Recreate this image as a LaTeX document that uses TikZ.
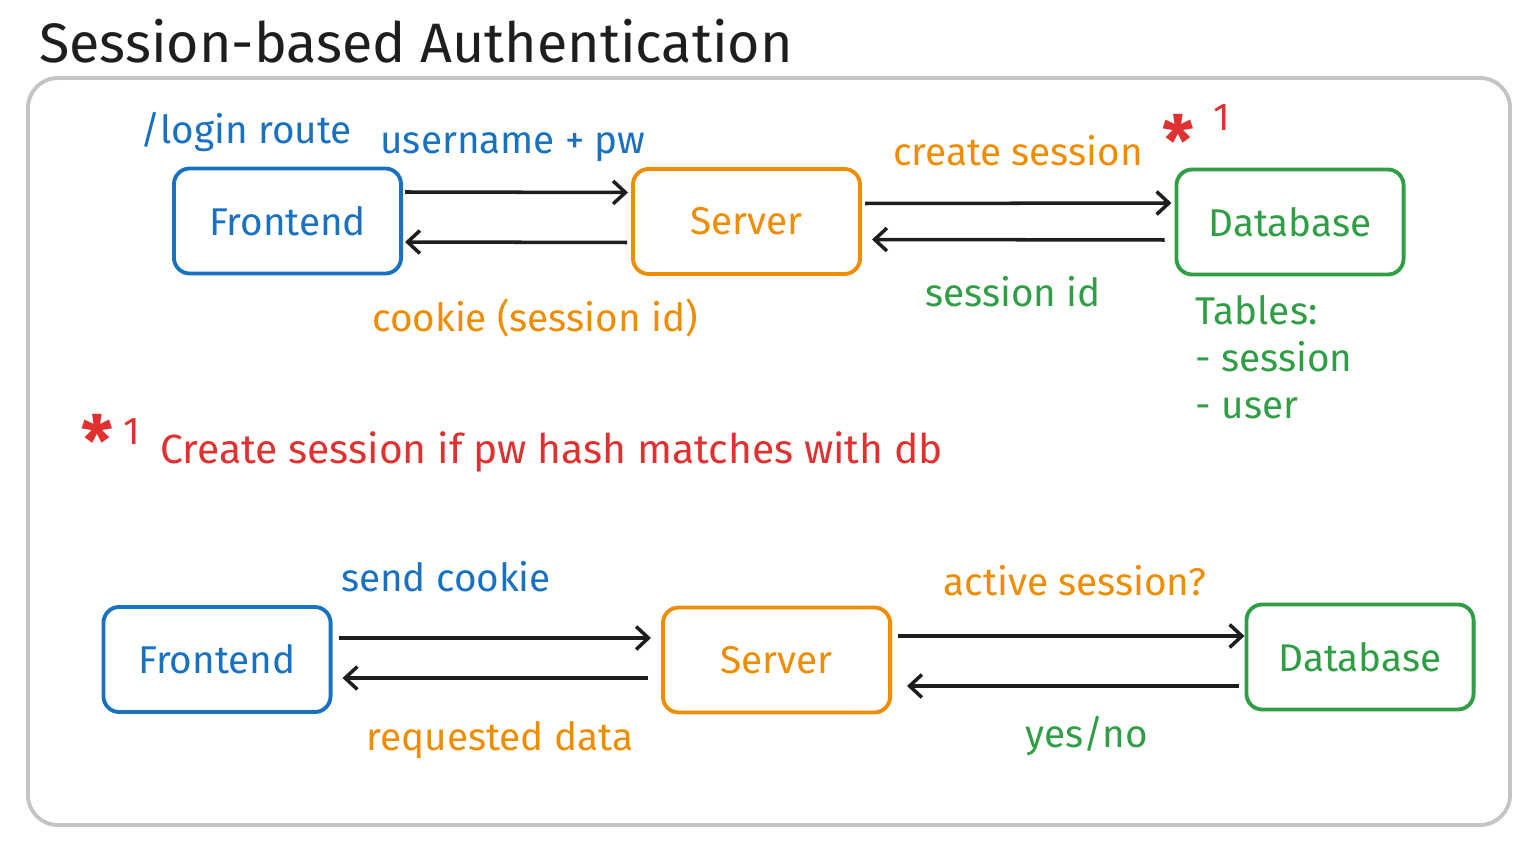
\documentclass[tikz,border=0pt]{standalone}
\usepackage{fontspec}
\setmainfont{Fira Sans}
\usetikzlibrary{arrows.meta,calc}

\definecolor{xblue}{HTML}{1971C2}
\definecolor{xorange}{HTML}{F08C00}
\definecolor{xgreen}{HTML}{2F9E44}
\definecolor{xred}{HTML}{E03131}
\definecolor{xink}{HTML}{1E1E1E}
\definecolor{xframe}{HTML}{C4C4C4}

\tikzset{
  service/.style = {rectangle,
      line width = 1.1pt,
      rounded corners = 4.5pt,
      minimum width = 2.27cm,
      minimum height = 1.05cm,
      font = \fontsize{11}{13}\selectfont},
  note/.style = {inner sep = 0pt,
      font = \fontsize{11}{13}\selectfont},
  flow/.style = {draw = xink,
      line width = 1pt,
      -{Straight Barb[length=3.5pt,width=6.5pt]}},
}

\begin{document}
\begin{tikzpicture}[x=0.01cm,y=-0.01cm]
\useasboundingbox (0,0) rectangle (1524,843);

\node[note, text = xink, font = \fontsize{15.8}{18}\selectfont] (title) at (416,41) {Session-based Authentication};
\draw[xframe, line width = 1.1pt, rounded corners = 8.5pt] (28,78) rectangle (1510,825);

% login
  \node[service, draw = xblue, text = xblue] (fe1) at (287.5,221) {Frontend};
  \node[service, draw = xorange, text = xorange] (sv1) at (746.5,221.5) {Server};
  \node[service, draw = xgreen, text = xgreen] (db1) at (1290,222) {Database};

  \draw[flow] ($(fe1.east)+(2,-29)$) -- ($(sv1.west)+(-3,-29)$);
  \draw[flow] ($(sv1.west)+(-4,21)$) -- ($(fe1.east)+(2,21)$);
  \draw[flow] ($(sv1.east)+(3,-18)$) -- ($(db1.west)+(-3,-19)$);
  \draw[flow] ($(db1.west)+(-10,18)$) -- ($(sv1.east)+(10,18)$);

  \node[note, text = xblue] (route) at (246,132) {/login route};
  \node[note, text = xblue] (creds) at (513,147) {username + pw};
  \node[note, text = xorange] (cookie) at (535,318) {cookie (session id)};
  \node[note, text = xorange] (create) at (1018,151) {create session};
  \node[note, text = xred, font = \fontsize{20}{20}\selectfont\bfseries] (star) at (1178,140) {*};
  \node[note, text = xred] (starnum) at (1222,118) {1};
  \node[note, text = xgreen] (sid) at (1013,292) {session id};
  \node[note, text = xgreen, anchor = west, align = left,
      font = \fontsize{11}{13.4}\selectfont] (tables) at (1195,357) {Tables:\\- session\\- user};

% footnote for the star
  \node[note, text = xred, font = \fontsize{20}{20}\selectfont\bfseries] (fnstar) at (97,440) {*};
  \node[note, text = xred] (fnnum) at (132,432) {1};
  \node[note, text = xred, anchor = west, font = \fontsize{11.6}{13}\selectfont] (fntext) at (160,452) {Create session if pw hash matches with db};

% later requests
  \node[service, draw = xblue, text = xblue] (fe2) at (217,659.5) {Frontend};
  \node[service, draw = xorange, text = xorange] (sv2) at (776.5,660) {Server};
  \node[service, draw = xgreen, text = xgreen] (db2) at (1360,657) {Database};

  \draw[flow] ($(fe2.east)+(6,-21.5)$) -- ($(sv2.west)+(-10,-22)$);
  \draw[flow] ($(sv2.west)+(-13,18)$) -- ($(fe2.east)+(10,18.5)$);
  \draw[flow] ($(sv2.east)+(6,-24)$) -- ($(db2.west)+(0,-21)$);
  \draw[flow] ($(db2.west)+(-6,29)$) -- ($(sv2.east)+(15,26)$);

  \node[note, text = xblue] (send) at (446,577) {send cookie};
  \node[note, text = xorange] (data) at (500,740) {requested data};
  \node[note, text = xorange] (active) at (1075,581) {active session?};
  \node[note, text = xgreen] (answer) at (1087,736) {yes/no};
\end{tikzpicture}
\end{document}
